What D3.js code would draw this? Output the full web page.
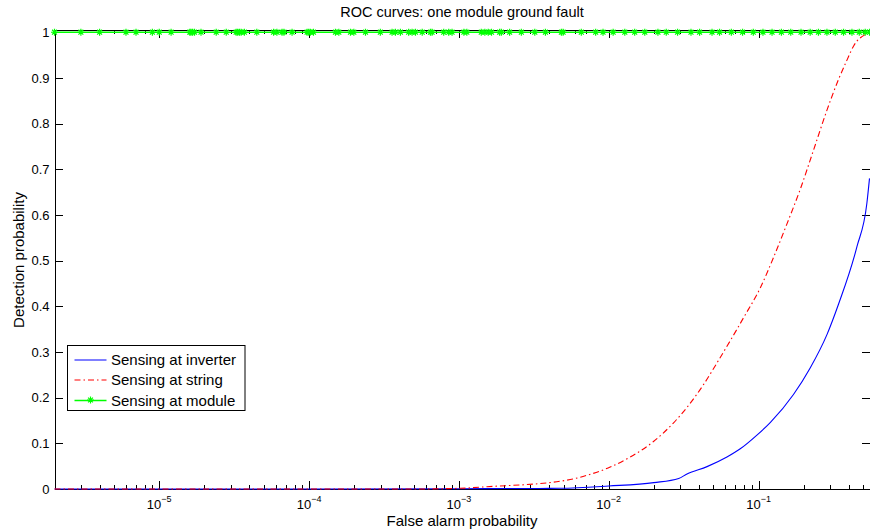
<!DOCTYPE html>
<html lang="en">
<head>
<meta charset="UTF-8">
<title>ROC curves: one module ground fault</title>
<script src="https://d3js.org/d3.v7.min.js"></script>
<style>
    body { margin: 0; background: #fff; }
    svg { display: block; font-family: "Liberation Sans", Arial, Helvetica, sans-serif; }
    .axis path, .axis line { stroke: #000; stroke-width: 1; shape-rendering: crispEdges; }
    .axis text { fill: #000; }
</style>
</head>
<body>
<div id="chart"></div>
<script>
// Sensing at inverter (blue, solid)
const inverterFalseAlarm = [2e-6, 1e-4, 1e-3, 2e-3, 4.75e-3, 0.01, 0.02, 0.0293, 0.0333, 0.0453, 0.0615,
    0.0755, 0.0975, 0.12, 0.171, 0.221, 0.286, 0.342, 0.453, 0.528, 0.55];
const inverterDetect = [0, 0, 0.0005, 0.001, 0.0015, 0.0066, 0.014, 0.023, 0.033, 0.049, 0.07,
    0.088, 0.118, 0.146, 0.207, 0.265, 0.338, 0.405, 0.53, 0.625, 0.68];

// Sensing at string (red, dash-dot)
const stringFalseAlarm = [2e-6, 1e-4, 5e-4, 1.02e-3, 1.54e-3, 4.75e-3, 5.98e-3, 7.16e-3, 0.01023, 0.0139,
    0.0199, 0.0271, 0.0341, 0.043, 0.0555, 0.0718, 0.0794, 0.1026, 0.1259,
    0.1545, 0.1897, 0.2328, 0.2857, 0.342, 0.389, 0.431, 0.528, 0.55];
const stringDetect = [0, 0, 0, 0.0015, 0.005, 0.017, 0.023, 0.03, 0.048, 0.07,
    0.104, 0.145, 0.183, 0.229, 0.288, 0.35, 0.375, 0.44, 0.507,
    0.58, 0.656, 0.742, 0.829, 0.897, 0.939, 0.97, 0.997, 1.0];

// Sensing at module (green, line with * markers)
const moduleFalseAlarm = [2.0e-6, 3.0e-6, 4.0e-6, 6.0e-6, 7.0e-6, 9.0e-6, 1.0e-5, 1.2e-5, 1.6e-5, 1.63e-5,
    1.67e-5, 1.72e-5, 1.9e-5, 2.4e-5, 2.8e-5, 3.26e-5, 3.34e-5, 3.43e-5, 3.52e-5, 3.7e-5,
    4.48e-5, 5.8e-5, 6.1e-5, 6.6e-5, 6.8e-5, 7.7e-5, 9.7e-5, 9.95e-5, 1.02e-4, 1.07e-4,
    1.5e-4, 1.58e-4, 1.89e-4, 1.99e-4, 2.38e-4, 2.99e-4, 3.58e-4, 3.77e-4, 4.07e-4, 4.62e-4,
    4.87e-4, 5.13e-4, 5.69e-4, 6.46e-4, 6.62e-4, 7.92e-4, 8.55e-4, 9.0e-4, 1.08e-3, 1.13e-3,
    1.41e-3, 1.49e-3, 1.57e-3, 1.65e-3, 1.87e-3, 1.92e-3, 2.18e-3, 2.61e-3, 3.21e-3, 3.78e-3,
    4.83e-3, 4.96e-3, 6.56e-3, 8.18e-3, 9.16e-3, 1.07e-2, 1.28e-2, 1.49e-2, 1.74e-2, 2.13e-2,
    2.42e-2, 2.88e-2, 3.54e-2, 4.04e-2, 4.89e-2, 5.49e-2, 6.58e-2, 7.82e-2, 9.22e-2, 0.107,
    0.123, 0.142, 0.164, 0.192, 0.221, 0.251, 0.286, 0.325, 0.369, 0.42,
    0.47, 0.515, 0.55];
const moduleDetect = [1, 1, 1, 1, 1, 1, 1, 1, 1, 1,
    1, 1, 1, 1, 1, 1, 1, 1, 1, 1,
    1, 1, 1, 1, 1, 1, 1, 1, 1, 1,
    1, 1, 1, 1, 1, 1, 1, 1, 1, 1,
    1, 1, 1, 1, 1, 1, 1, 1, 1, 1,
    1, 1, 1, 1, 1, 1, 1, 1, 1, 1,
    1, 1, 1, 1, 1, 1, 1, 1, 1, 1,
    1, 1, 1, 1, 1, 1, 1, 1, 1, 1,
    1, 1, 1, 1, 1, 1, 1, 1, 1, 1,
    1, 1, 1];

const xMajorTicks = [1e-5, 1e-4, 1e-3, 1e-2, 1e-1];
const xTickExponents = ["\u22125", "\u22124", "\u22123", "\u22122", "\u22121"];
const yTicks = [0, 0.1, 0.2, 0.3, 0.4, 0.5, 0.6, 0.7, 0.8, 0.9, 1];
const seriesNames = ["Sensing at inverter", "Sensing at string", "Sensing at module"];

const width = 870, height = 531;
const plotLeft = 54.5, plotRight = 869.5, plotTop = 29.5, plotBottom = 489;
const xDomain = [2e-6, 0.55];
const yDomain = [0, 1.006];

const svg = d3.select("#chart").append("svg")
    .attr("width", width)
    .attr("height", height);

svg.append("rect").attr("width", width).attr("height", height).attr("fill", "#fff");

const x = d3.scaleLog().domain(xDomain).range([plotLeft, plotRight]);
const y = d3.scaleLinear().domain(yDomain).range([plotBottom, plotTop]);

// minor ticks: 2..9 in each decade inside the domain
const xMinorTicks = [];
for (let e = -6; e <= 0; e++) {
    for (let m = 2; m <= 9; m++) {
        const v = m * Math.pow(10, e);
        if (v >= xDomain[0] && v <= xDomain[1]) xMinorTicks.push(v);
    }
}

// bottom axis
svg.append("g").attr("class", "axis")
    .attr("transform", `translate(0,${plotBottom})`)
    .call(d3.axisBottom(x).tickValues(xMinorTicks).tickSizeInner(-4).tickSizeOuter(0).tickFormat(""));
const xb = svg.append("g").attr("class", "axis")
    .attr("transform", `translate(0,${plotBottom})`)
    .call(d3.axisBottom(x).tickValues(xMajorTicks).tickSizeInner(-8).tickSizeOuter(0).tickFormat(""));
xb.selectAll(".tick text").remove();

// top axis
svg.append("g").attr("class", "axis")
    .attr("transform", `translate(0,${plotTop})`)
    .call(d3.axisTop(x).tickValues(xMinorTicks).tickSizeInner(-4).tickSizeOuter(0).tickFormat(""));
svg.append("g").attr("class", "axis")
    .attr("transform", `translate(0,${plotTop})`)
    .call(d3.axisTop(x).tickValues(xMajorTicks).tickSizeInner(-8).tickSizeOuter(0).tickFormat(""));

// left axis
const yl = svg.append("g").attr("class", "axis")
    .attr("transform", `translate(${plotLeft},0)`)
    .call(d3.axisLeft(y).tickValues(yTicks).tickSizeInner(-8).tickSizeOuter(0).tickPadding(5)
        .tickFormat(d3.format("~g")));
yl.selectAll(".tick text")
    .attr("x", -5)
    .style("font-size", "13px")
    .style("font-family", "'Liberation Sans', Arial, sans-serif");

// right axis
svg.append("g").attr("class", "axis")
    .attr("transform", `translate(${plotRight},0)`)
    .call(d3.axisRight(y).tickValues(yTicks).tickSizeInner(-8).tickSizeOuter(0).tickFormat(""));

// x tick labels with exponents
xMajorTicks.forEach((v, i) => {
    const t = svg.append("text")
        .attr("x", x(v))
        .attr("y", 509)
        .attr("text-anchor", "middle")
        .style("font-size", "13px");
    t.append("tspan").text("10");
    t.append("tspan").attr("dy", -7).style("font-size", "9px").text(xTickExponents[i]);
});

// lines
const line = d3.line()
    .x(d => x(d[0]))
    .y(d => y(d[1]))
    .curve(d3.curveMonotoneX);

const inverterData = d3.zip(inverterFalseAlarm, inverterDetect);
const stringData = d3.zip(stringFalseAlarm, stringDetect);
const moduleData = d3.zip(moduleFalseAlarm, moduleDetect);

svg.append("path")
    .datum(inverterData)
    .attr("fill", "none")
    .attr("stroke", "#0000ff")
    .attr("stroke-width", 1.1)
    .attr("d", line);

svg.append("path")
    .datum(stringData)
    .attr("fill", "none")
    .attr("stroke", "#ff0000")
    .attr("stroke-width", 1.1)
    .attr("stroke-dasharray", "6,3,1.5,3")
    .attr("d", line);

svg.append("path")
    .datum(moduleData)
    .attr("fill", "none")
    .attr("stroke", "#00ff00")
    .attr("stroke-width", 1.5)
    .attr("d", d3.line().x(d => x(d[0])).y(d => y(d[1])));

// asterisk marker like matlab '*'
function starPath(s) {
    const k = s * 0.7;
    return `M${-s},0H${s}M0,${-s}V${s}M${-k},${-k}L${k},${k}M${-k},${k}L${k},${-k}`;
}

svg.append("g").selectAll("path")
    .data(moduleData)
    .enter().append("path")
    .attr("transform", d => `translate(${x(d[0])},${y(d[1])})`)
    .attr("d", starPath(3.5))
    .attr("fill", "none")
    .attr("stroke", "#00ff00")
    .attr("stroke-width", 1.2);

// title and axis labels
svg.append("text")
    .attr("x", (plotLeft + plotRight) / 2)
    .attr("y", 17)
    .attr("text-anchor", "middle")
    .style("font-size", "14.5px")
    .text("ROC curves: one module ground fault");

svg.append("text")
    .attr("x", (plotLeft + plotRight) / 2)
    .attr("y", 526)
    .attr("text-anchor", "middle")
    .style("font-size", "15px")
    .text("False alarm probability");

svg.append("text")
    .attr("transform", "translate(24,260) rotate(-90)")
    .attr("text-anchor", "middle")
    .style("font-size", "15px")
    .text("Detection probability");

// legend
const legend = svg.append("g").attr("transform", "translate(67.5,345.5)");
legend.append("rect")
    .attr("width", 177.5)
    .attr("height", 65)
    .attr("fill", "#fff")
    .attr("stroke", "#000")
    .attr("stroke-width", 1);

const legendStyles = [
    { color: "#0000ff", dash: null, marker: false },
    { color: "#ff0000", dash: "6,3,1.5,3", marker: false },
    { color: "#00ff00", dash: null, marker: true }
];
const rowY = [14, 34, 54.5];

seriesNames.forEach((name, i) => {
    const g = legend.append("g").attr("transform", `translate(0,${rowY[i]})`);
    g.append("line")
        .attr("x1", 7).attr("x2", 39)
        .attr("y1", 0.5).attr("y2", 0.5)
        .attr("stroke", legendStyles[i].color)
        .attr("stroke-width", i === 2 ? 1.5 : 1.2)
        .attr("stroke-dasharray", legendStyles[i].dash);
    if (legendStyles[i].marker) {
        g.append("path")
            .attr("transform", "translate(23,0)")
            .attr("d", starPath(3.5))
            .attr("fill", "none")
            .attr("stroke", "#00ff00")
            .attr("stroke-width", 1.2);
    }
    g.append("text")
        .attr("x", 43.5)
        .attr("y", 5.5)
        .style("font-size", "15px")
        .text(name);
});
</script>
</body>
</html>
